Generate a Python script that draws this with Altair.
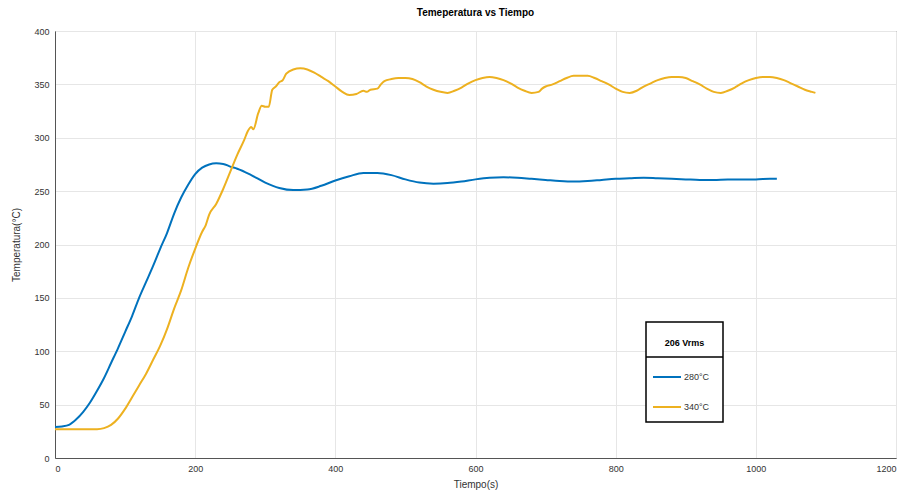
import altair as alt
import pandas as pd

t_280 = [0,10,20,30,40,50,60,70,80,90,100,110,120,130,140,150,160,170,180,190,200,210,220,230,240,250,260,280,300,320,340,360,380,400,420,440,460,480,500,520,540,560,580,600,620,640,660,680,700,720,740,760,780,800,820,840,860,880,900,920,940,960,980,1000,1020,1030]
v_280 = [29,29.5,31,36,43,52,63,75,89,103,118,133,150,165,180,196,211,229,244,256,266,272,275,276,275.5,273,271,265,258,253,251,251.5,255,260,264,267,267,265,261,258,257,257.5,259,261,262.5,263,262.5,261.5,260.5,259.5,259,259.5,260.5,261.5,262,262.5,262,261.5,261,260.5,260.5,261,261,261,261.5,261.5]

t_340 = [0,20,40,60,70,80,90,100,110,120,130,140,150,160,170,180,190,200,210,215,220,230,240,250,260,270,275,280,283,290,295,300,305,310,315,320,325,330,340,350,360,370,380,390,400,410,420,430,440,445,450,460,465,470,480,490,500,510,520,530,540,550,560,570,580,590,600,610,620,630,640,650,660,670,680,690,695,700,710,720,730,740,750,760,770,780,790,800,810,820,830,840,850,860,870,880,890,900,910,920,930,940,950,960,970,975,980,990,1000,1010,1020,1030,1040,1050,1060,1070,1080,1085]
v_340 = [27,27,27,27,28,31,37,46,57,68,79,92,105,121,140,157,178,196,212,218,228,238,252,268,284,298,306,310,308,323,330,329,329,345,348,352,354,360,364,365,364,361,357,353,348,343,340,341,344,343,345,346,350,353,355,356,356,355,352,348,345,343,342,344,347,351,354,356,357,356,354,351,347,344,342,343,346,348,350,353,356,358,358,358,356,353,350,346,343,342,344,348,351,354,356,357,357,356,353,350,346,343,342,344,347,349,351,354,356,357,357,356,354,351,348,345,343,342]

series_names = ["280°C", "340°C"]
series_colors = ["#0072BD", "#EDB120"]
legend_title = "206 Vrms"

df = pd.concat([
    pd.DataFrame({"t": t_280, "v": v_280, "s": series_names[0]}),
    pd.DataFrame({"t": t_340, "v": v_340, "s": series_names[1]}),
])

FONT = "Liberation Sans"

# legend frame (box, header, separator) drawn behind the line marks
legend_box = alt.Chart(pd.DataFrame({"a": [0]})).mark_rect(
    fill="white", stroke="black", strokeWidth=1.5
).encode(x=alt.value(591), x2=alt.value(668), y=alt.value(291), y2=alt.value(391))

legend_sep = alt.Chart(pd.DataFrame({"a": [0]})).mark_rule(color="black", strokeWidth=1.5).encode(
    x=alt.value(591), x2=alt.value(668), y=alt.value(326)
)

legend_head = alt.Chart(pd.DataFrame({"txt": [legend_title]})).mark_text(
    font=FONT, fontSize=9, fontWeight="bold", color="black", align="center", baseline="middle"
).encode(x=alt.value(629.5), y=alt.value(312), text="txt:N")

lines = alt.Chart(df).mark_line(strokeWidth=2, interpolate="monotone").encode(
    x=alt.X("t:Q", title="Tiempo(s)",
            scale=alt.Scale(domain=[0, 1200], nice=False),
            axis=alt.Axis(values=list(range(0, 1201, 200)), format="d", labelPadding=6, titlePadding=6)),
    y=alt.Y("v:Q", title="Temperatura(°C)",
            scale=alt.Scale(domain=[0, 400], nice=False),
            axis=alt.Axis(values=list(range(0, 401, 50)), labelPadding=6, titlePadding=12)),
    color=alt.Color("s:N", scale=alt.Scale(domain=series_names, range=series_colors),
                    legend=alt.Legend(title=None, orient="none", legendX=597, legendY=331,
                                      symbolType="stroke", symbolSize=784, symbolStrokeWidth=2,
                                      padding=0, rowPadding=10,
                                      labelFontSize=9, labelOffset=2, labelColor="#333333")),
)

chart = alt.layer(legend_box, legend_sep, legend_head, lines).properties(
    width=841, height=427,
    title=alt.TitleParams("Temeperatura vs Tiempo", fontSize=10, fontWeight="bold", font=FONT, offset=9, color="black"),
    autosize=alt.AutoSizeParams(type="none"),
    padding={"left": 47, "top": 23, "right": 9, "bottom": 40},
).configure_axis(
    labelFont=FONT, titleFont=FONT, labelFontSize=9, titleFontSize=10,
    labelColor="#333333", titleColor="#333333", gridColor="#e6e6e6",
    domainColor="#555555", ticks=False, titleFontWeight="normal",
).configure_legend(
    labelFont=FONT,
).configure_view(stroke="#555555")

chart.save("out.html", embed_options={"renderer": "svg", "actions": False})
